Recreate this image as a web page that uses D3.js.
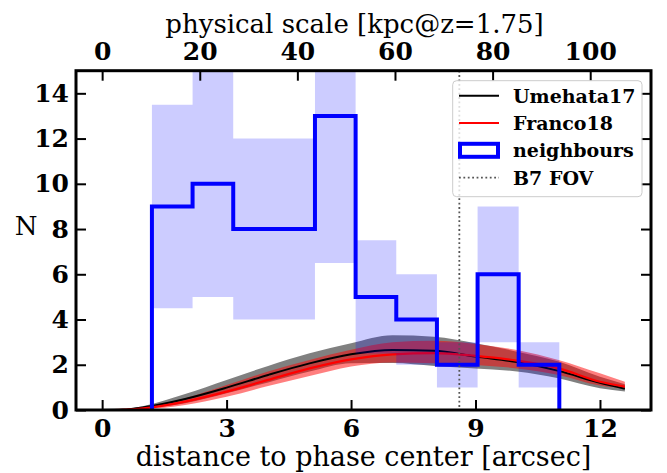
<!DOCTYPE html>
<html>
<head>
<meta charset="utf-8">
<script src="https://cdn.jsdelivr.net/npm/d3@7"></script>
<style>
  body { margin: 0; background: #fff; }
  text { font-family: "DejaVu Serif", serif; }
</style>
</head>
<body>
<div class="chart"></div>
<script>
// neighbour histogram (arcsec bins)
const binEdges = [1.20, 2.18, 3.16, 4.14, 5.13, 6.11, 7.09, 8.07, 9.05, 10.04, 11.02];
const counts = [9, 10, 8, 8, 13, 5, 4, 2, 6, 2];
const countLow = [4.5, 5, 4, 4, 6.5, 2.5, 2, 1, 3, 1];
const countHigh = [13.5, 15, 12, 12, 19.5, 7.5, 6, 3, 9, 3];

// expected counts from the number counts
const radius = [0, 0.5, 1, 2, 3, 4, 5, 6, 7, 8, 9, 10, 11, 12, 12.6];
const umehata = [0, 0.02, 0.12, 0.49, 0.99, 1.55, 2.06, 2.46, 2.65, 2.62, 2.36, 2.12, 1.73, 1.2, 0.94];
const umehataHigh = [0, 0.03, 0.18, 0.71, 1.33, 1.95, 2.51, 2.95, 3.3, 3.24, 2.95, 2.58, 2.14, 1.47, 1.14];
const umehataLow = [0, 0.01, 0.07, 0.3, 0.74, 1.22, 1.7, 2.07, 2.08, 1.95, 1.84, 1.7, 1.4, 0.96, 0.82];
const franco = [0, 0.01, 0.07, 0.37, 0.81, 1.33, 1.84, 2.24, 2.46, 2.51, 2.39, 2.18, 1.84, 1.25, 1.03];
const francoHigh = [0, 0.02, 0.12, 0.52, 1.1, 1.7, 2.21, 2.66, 3.0, 3.06, 2.92, 2.65, 2.21, 1.62, 1.25];
const francoLow = [0, 0, 0.03, 0.22, 0.59, 1.06, 1.5, 1.92, 2.1, 2.07, 1.99, 1.84, 1.55, 1.08, 0.96];

const fovRadius = 8.61;
const kpcPerArcsec = 8.5;

const xTicks = [0, 3, 6, 9, 12];
const yTicks = [0, 2, 4, 6, 8, 10, 12, 14];
const kpcTicks = [0, 20, 40, 60, 80, 100];

const legendItems = ["Umehata17", "Franco18", "neighbours", "B7 FOV"];

const w = 667;
const h = 473;
const mLeft = 76, mRight = 651, mTop = 70.7, mBottom = 410;

const svg = d3.select(".chart").append("svg").attr("width", w).attr("height", h);

const x = d3.scaleLinear().domain([-0.63, 13.23]).range([mLeft, mRight]);
const y = d3.scaleLinear().domain([0, 15]).range([mBottom, mTop]);
const xKpc = d3.scaleLinear().domain(x.domain().map((d) => d * kpcPerArcsec)).range([mLeft, mRight]);

svg.append("clipPath").attr("id", "plot")
  .append("rect").attr("x", mLeft).attr("y", mTop).attr("width", mRight - mLeft).attr("height", mBottom - mTop);

const plot = svg.append("g").attr("clip-path", "url(#plot)");

const band = (lo, hi) => d3.area()
  .x((d, i) => x(radius[i]))
  .y0((d, i) => y(lo[i]))
  .y1((d, i) => y(hi[i]))
  .curve(d3.curveMonotoneX);
const curve = () => d3.line()
  .x((d, i) => x(radius[i]))
  .y((d) => y(d))
  .curve(d3.curveMonotoneX);

// bands
plot.append("path").datum(radius).attr("d", band(umehataLow, umehataHigh))
  .attr("fill", "#808080");
plot.append("path").datum(radius).attr("d", band(francoLow, francoHigh))
  .attr("fill", "red").attr("fill-opacity", 0.5);

// lines
plot.append("path").datum(umehata).attr("d", curve())
  .attr("fill", "none").attr("stroke", "black").attr("stroke-width", 2);
plot.append("path").datum(franco).attr("d", curve())
  .attr("fill", "none").attr("stroke", "red").attr("stroke-width", 2.2);

// poisson range of the neighbour counts
const stepIdx = binEdges.map((d, i) => Math.min(i, counts.length - 1));
plot.append("path").datum(stepIdx)
  .attr("d", d3.area()
    .x((d, i) => x(binEdges[i]))
    .y0((d) => y(countLow[d]))
    .y1((d) => y(countHigh[d]))
    .curve(d3.curveStepAfter))
  .attr("fill", "blue").attr("fill-opacity", 0.2);

// histogram outline
const stepPts = [[binEdges[0], 0]];
counts.forEach((c, i) => {
  stepPts.push([binEdges[i], c]);
  stepPts.push([binEdges[i + 1], c]);
});
stepPts.push([binEdges[binEdges.length - 1], 0]);
plot.append("path").datum(stepPts)
  .attr("d", d3.line().x((d) => x(d[0])).y((d) => y(d[1])))
  .attr("fill", "none").attr("stroke", "blue").attr("stroke-width", 4)
  .attr("stroke-linejoin", "miter");

// B7 field of view
plot.append("line")
  .attr("x1", x(fovRadius)).attr("x2", x(fovRadius))
  .attr("y1", mTop).attr("y2", mBottom)
  .attr("stroke", "#555").attr("stroke-width", 1.8).attr("stroke-dasharray", "1.8,2.6");

// axes, ticks pointing in
const styleAxis = (g) => {
  g.select(".domain").remove();
  g.selectAll(".tick line").attr("stroke", "black").attr("stroke-width", 2);
  g.selectAll(".tick text").attr("fill", "black")
    .style("font-size", "25px").style("font-weight", "bold")
    .style("font-family", "'DejaVu Serif', serif");
};

svg.append("g").attr("transform", `translate(0,${mBottom})`)
  .call(d3.axisBottom(x).tickValues(xTicks).tickSize(-10).tickPadding(9))
  .call(styleAxis);
svg.append("g").attr("transform", `translate(0,${mTop})`)
  .call(d3.axisTop(xKpc).tickValues(kpcTicks).tickSize(-10).tickPadding(11))
  .call(styleAxis);
svg.append("g").attr("transform", `translate(${mLeft},0)`)
  .call(d3.axisLeft(y).tickValues(yTicks).tickSize(-10).tickPadding(7))
  .call(styleAxis);
svg.append("g").attr("transform", `translate(${mRight},0)`)
  .call(d3.axisRight(y).tickValues(yTicks).tickSize(-10).tickFormat(""))
  .call(styleAxis);

// spines
svg.append("rect")
  .attr("x", mLeft).attr("y", mTop).attr("width", mRight - mLeft).attr("height", mBottom - mTop)
  .attr("fill", "none").attr("stroke", "black").attr("stroke-width", 3);

// labels
svg.append("text").attr("x", 363.5).attr("y", 466).attr("text-anchor", "middle")
  .style("font-size", "27px").text("distance to phase center [arcsec]");
svg.append("text").attr("x", 354.5).attr("y", 33).attr("text-anchor", "middle")
  .style("font-size", "26px").text("physical scale [kpc@z=1.75]");
svg.append("text").attr("x", 26).attr("y", 235).attr("text-anchor", "middle")
  .style("font-size", "26px").text("N");

// legend
const legend = svg.append("g");
legend.append("rect")
  .attr("x", 452.7).attr("y", 80.7).attr("width", 189.3).attr("height", 116)
  .attr("rx", 4).attr("fill", "white").attr("fill-opacity", 0.8)
  .attr("stroke", "#cccccc").attr("stroke-width", 1);

const rowY = (i) => 95.7 + i * 27.3;
legend.append("line").attr("x1", 459).attr("x2", 499).attr("y1", rowY(0)).attr("y2", rowY(0))
  .attr("stroke", "black").attr("stroke-width", 2);
legend.append("line").attr("x1", 459).attr("x2", 499).attr("y1", rowY(1)).attr("y2", rowY(1))
  .attr("stroke", "red").attr("stroke-width", 2);
legend.append("rect").attr("x", 460).attr("y", rowY(2) - 6.5).attr("width", 38).attr("height", 13)
  .attr("fill", "white").attr("stroke", "blue").attr("stroke-width", 4);
legend.append("line").attr("x1", 459).attr("x2", 499).attr("y1", rowY(3)).attr("y2", rowY(3))
  .attr("stroke", "#555").attr("stroke-width", 1.8).attr("stroke-dasharray", "1.8,2.6");

legend.selectAll(".label").data(legendItems).enter().append("text")
  .attr("x", 513).attr("y", (d, i) => rowY(i) + 7)
  .style("font-size", "19px").style("font-weight", "bold")
  .text((d) => d);
</script>
</body>
</html>
